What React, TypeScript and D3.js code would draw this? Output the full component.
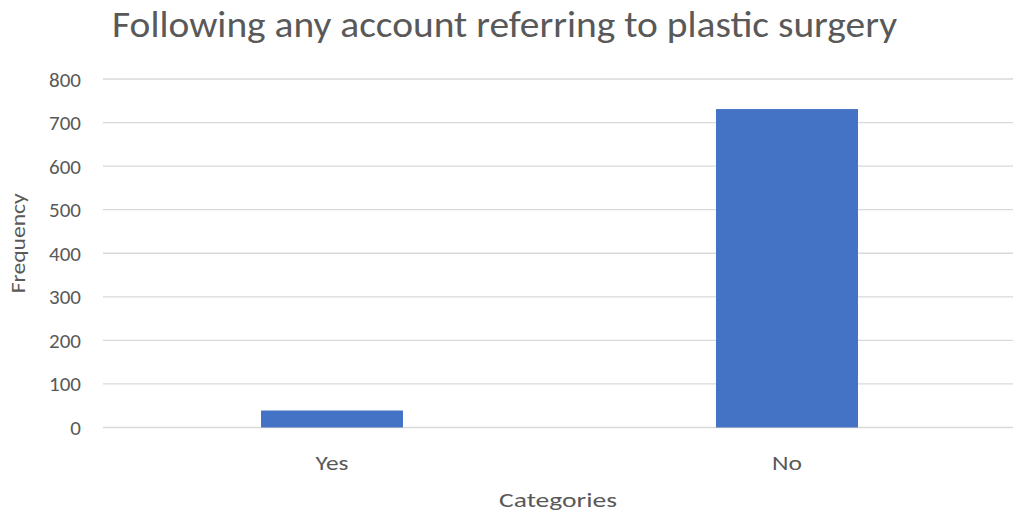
import React from "react";
import * as d3 from "d3";

const categories = ["Yes", "No"];
const frequencies = [39, 731];
const yTicks = [0, 100, 200, 300, 400, 500, 600, 700, 800];
const title = "Following any account referring to plastic surgery";
const xTitle = "Categories";
const yTitle = "Frequency";

export default function App() {
  const W = 1018, H = 516;
  const left = 103, right = 1013, top = 79, bottom = 427.5;
  const x = d3.scaleBand().domain(categories).range([left, right]).paddingInner(0).paddingOuter(0);
  const y = d3.scaleLinear().domain([0, 800]).range([bottom, top]);
  const barW = x.bandwidth() * 0.312;
  const font = "Carlito, Calibri, Lato, 'Open Sans', sans-serif";
  const grey = "#595959";
  const catLen: Record<string, number> = { Yes: 33, No: 30 };
  return (
    <svg width={W} height={H} style={{ position: "absolute", left: 0, top: 0, background: "#fff" }} fontFamily={font}>
      <rect x={0} y={0} width={W} height={H} fill="#fff" />
      <text x={504.5} y={37} textAnchor="middle" fontSize={37} fill={grey} textLength={785} lengthAdjust="spacingAndGlyphs">{title}</text>
      {yTicks.map((t) => (
        <g key={t}>
          <line x1={left} x2={right} y1={y(t)} y2={y(t)} stroke="#d9d9d9" strokeWidth={1.3} />
          <text x={81} y={y(t)} dy="0.36em" textAnchor="end" fontSize={21} fill={grey}>{t}</text>
        </g>
      ))}
      {categories.map((c, i) => (
        <g key={c}>
          <rect x={(x(c) as number) + x.bandwidth() / 2 - barW / 2 + 1.5} y={y(frequencies[i])} width={barW} height={bottom - y(frequencies[i])} fill="#4472C4" />
          <text x={(x(c) as number) + x.bandwidth() / 2 + 1.5} y={470} textAnchor="middle" fontSize={21} fill={grey} textLength={catLen[c]} lengthAdjust="spacingAndGlyphs">{c}</text>
        </g>
      ))}
      <text x={(left + right) / 2} y={507} textAnchor="middle" fontSize={20} fill={grey} textLength={118} lengthAdjust="spacingAndGlyphs">{xTitle}</text>
      <text transform={`translate(25,${(top + bottom) / 2 - 10}) rotate(-90)`} textAnchor="middle" fontSize={21} fill={grey} textLength={100} lengthAdjust="spacingAndGlyphs">{yTitle}</text>
    </svg>
  );
}
